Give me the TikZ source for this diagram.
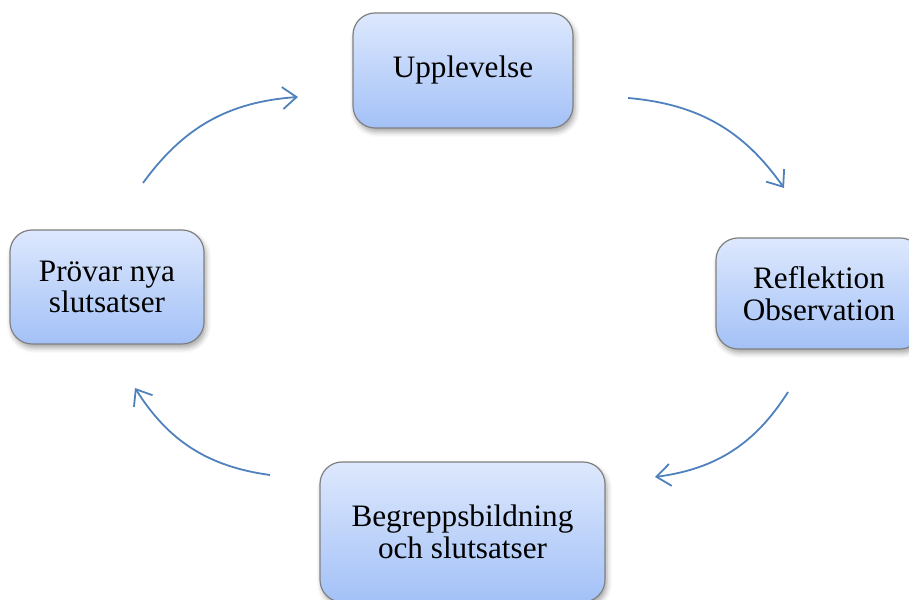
\documentclass[tikz,border=0pt]{standalone}
\usepackage{fontspec}
\setmainfont{Liberation Serif}
\usetikzlibrary{arrows.meta}
\usetikzlibrary{shadows.blur}
\definecolor{boxtop}{HTML}{DDE8FD}
\definecolor{boxbottom}{HTML}{A3C1F7}
\definecolor{boxline}{HTML}{808080}
\definecolor{cycleblue}{HTML}{4F81BD}
\tikzset{box/.style = {draw = boxline, line width = 0.6pt, rounded corners = 11pt,
                       top color = boxtop, bottom color = boxbottom,
                       align = center, inner sep = 0,
                       font = \fontsize{15.6}{15.8}\selectfont,
                       blur shadow = {shadow xshift = 1pt, shadow yshift = -2pt,
                                      shadow blur radius = 2.5pt, shadow opacity = 35}}}
\tikzset{cycle/.style = {draw = cycleblue, line width = 0.9pt,
                         -{Straight Barb[length = 7pt, width = 11pt, line width = 0.9pt]}}}

\begin{document}
\begin{tikzpicture}[x = 0.5pt, y = 0.5pt]
    \useasboundingbox (0, 0) rectangle (909, 599);

    \node (upp) at (463, 528.5) [box, minimum width = 110pt, minimum height = 57.5pt] {Upplevelse};
    \node (refl) at (819, 305.5) [box, minimum width = 103pt, minimum height = 55.5pt] {Reflektion\\Observation};
    \node (begr) at (462.5, 67) [box, minimum width = 142.5pt, minimum height = 70pt] {Begreppsbildning\\och slutsatser};
    \node (prov) at (107, 312) [box, minimum width = 97pt, minimum height = 57pt] {Prövar nya\\slutsatser};

    \coordinate (upp out) at (628, 501);
    \coordinate (refl in) at (784, 411);
    \coordinate (refl out) at (788, 207);
    \coordinate (begr in) at (655, 122);
    \coordinate (begr out) at (270, 124);
    \coordinate (prov in) at (135, 211);
    \coordinate (prov out) at (143, 416);
    \coordinate (upp in) at (298, 502);

    \draw [cycle] (upp out) to [bend left = 25] (refl in);
    \draw [cycle] (refl out) to [bend left = 25] (begr in);
    \draw [cycle] (begr out) to [bend left = 25] (prov in);
    \draw [cycle] (prov out) to [bend left = 25] (upp in);
\end{tikzpicture}
\end{document}
